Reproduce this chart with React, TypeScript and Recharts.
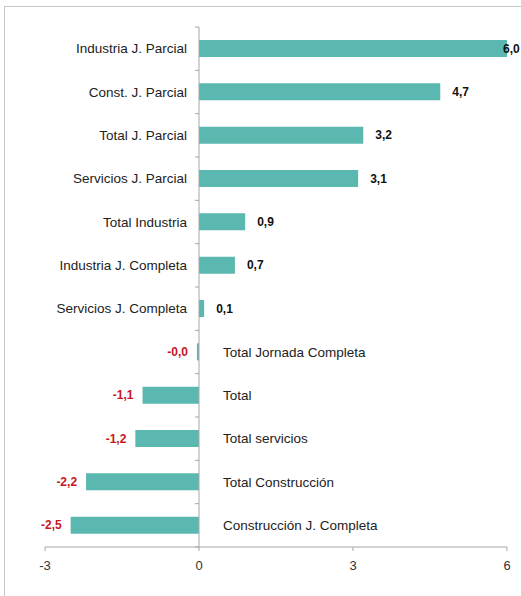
import { BarChart, Bar, XAxis, YAxis, ReferenceLine, LabelList } from 'recharts'

const categories = [
  'Industria J. Parcial',
  'Const. J. Parcial',
  'Total J. Parcial',
  'Servicios J. Parcial',
  'Total Industria',
  'Industria J. Completa',
  'Servicios J. Completa',
  'Total Jornada Completa',
  'Total',
  'Total servicios',
  'Total Construcción',
  'Construcción J. Completa',
]
const values = [6.0, 4.7, 3.2, 3.1, 0.9, 0.7, 0.1, -0.04, -1.1, -1.24, -2.2, -2.5]
const xTicks = [-3, 0, 3, 6]

const data = categories.map((name, i) => ({ name, value: values[i] }))

const FONT = '"Liberation Sans", Arial, sans-serif'
const W = 517
const H = 589

const fmt = (v: number) => v.toFixed(1).replace('.', ',')

function BarLabels(props: any) {
  const { x, y, width, height, index } = props
  const v = values[index]
  const a = x, b = x + width
  const zero = v >= 0 ? Math.min(a, b) : Math.max(a, b)
  const end = v >= 0 ? Math.max(a, b) : Math.min(a, b)
  const cy = y + height / 2
  if (v >= 0) {
    return (
      <g>
        <text x={zero - 12} y={cy} dy="0.35em" textAnchor="end" fontSize={13.5} fill="#222" fontFamily={FONT}>
          {categories[index]}
        </text>
        <text x={Math.min(end + 12, W - 19)} y={cy} dy="0.35em" textAnchor="start" fontSize={12} fontWeight={700} fill="#111" fontFamily={FONT}>
          {fmt(v)}
        </text>
      </g>
    )
  }
  return (
    <g>
      <text x={zero + 24} y={cy} dy="0.35em" textAnchor="start" fontSize={13.5} fill="#222" fontFamily={FONT}>
        {categories[index]}
      </text>
      <text x={end - 9} y={cy} dy="0.35em" textAnchor="end" fontSize={12} fontWeight={700} fill="#c8161e" fontFamily={FONT}>
        {fmt(v)}
      </text>
    </g>
  )
}

function ZeroAxis(props: any) {
  const { x1, y1, x2, y2 } = props
  const n = categories.length
  const step = (y2 - y1) / n
  const marks = []
  for (let i = 0; i <= n; i++) {
    const yy = Math.min(y1, y2) + i * Math.abs(step)
    marks.push(<line key={i} x1={x1 - 4} x2={x1} y1={yy} y2={yy} stroke="#a6a6a6" strokeWidth={1} />)
  }
  return (
    <g>
      <line x1={x1} y1={y1} x2={x2} y2={y2} stroke="#a6a6a6" strokeWidth={1} />
      {marks}
    </g>
  )
}

export default function App() {
  return (
    <div style={{ position: 'relative', width: 521, height: 596, overflow: 'hidden', background: '#fff' }}>
      <style>{`body{margin:0;overflow:hidden}`}</style>
      <div style={{
        position: 'absolute', left: 4, top: 6, width: W, height: 600,
        borderLeft: '1px solid #c6c6c6', borderTop: '1px solid #c6c6c6',
      }}>
        <BarChart
          width={W}
          height={H}
          data={data}
          layout="vertical"
          margin={{ top: 20, right: 15, left: 40, bottom: 19 }}
        >
          <XAxis
            type="number"
            domain={[-3, 6]}
            ticks={xTicks}
            interval={0}
            height={30}
            tickSize={4}
            tickMargin={10}
            axisLine={{ stroke: '#a6a6a6' }}
            tickLine={{ stroke: '#a6a6a6' }}
            tick={{ fontSize: 13, fill: '#333', fontFamily: FONT }}
          />
          <YAxis type="category" dataKey="name" hide />
          <ReferenceLine x={0} shape={ZeroAxis} />
          <Bar dataKey="value" fill="#5ab8b0" barSize={17} isAnimationActive={false}>
            <LabelList dataKey="value" content={BarLabels} />
          </Bar>
        </BarChart>
      </div>
    </div>
  )
}
